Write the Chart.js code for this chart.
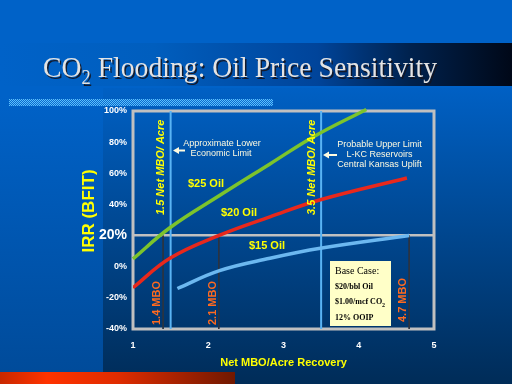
<!DOCTYPE html>
<html><head><meta charset="utf-8">
<script src="https://cdn.jsdelivr.net/npm/chart.js@4.4.0/dist/chart.umd.min.js"></script>
<style>html,body{margin:0;padding:0;background:#0060c8;overflow:hidden}#c{display:block}</style>
</head><body>
<canvas id="c" width="512" height="384"></canvas>
<script>
// ---- data ----
const oil25X = [1, 1.49, 2.16, 2.82, 3.4, 4.1];
const oil25Y = [5, 25, 46, 66, 83.5, 101];
const oil20X = [1, 1.49, 2.16, 2.82, 3.49, 4.64];
const oil20Y = [-13.5, 5.4, 20.4, 32, 43, 57];
const oil15X = [1.59, 2.15, 2.82, 3.49, 4.67];
const oil15Y = [-14, -2.5, 5.4, 11.8, 20];
const seriesNames = ['$25 Oil', '$20 Oil', '$15 Oil'];
const limitX = [1.5, 3.5];
const limitLabels = ['1.5 Net MBO/ Acre', '3.5 Net MBO/ Acre'];
const breakevenX = [1.4, 2.14, 4.67];
const breakevenLabels = ['1.4 MBO', '2.1 MBO', '4.7 MBO'];
const hurdleRate = 20;
const yTicks = [-40, -20, 0, 20, 40, 60, 80, 100];
const xTicks = [1, 2, 3, 4, 5];
const titleText = ['CO', '2', ' Flooding: Oil Price Sensitivity'];
const lowerNote = ['Approximate Lower', 'Economic Limit'];
const upperNote = ['Probable Upper Limit', 'L-KC Reservoirs', 'Central Kansas Uplift'];
const baseCase = ['Base Case:', '$20/bbl Oil', '$1.00/mcf CO', '12% OOIP'];

const pts = (xs, ys) => xs.map((x, i) => ({x, y: ys[i]}));

function arrowLeft(ctx, tipX, y, len, color) {
  ctx.fillStyle = color;
  ctx.beginPath();
  ctx.moveTo(tipX, y);
  ctx.lineTo(tipX + 6, y - 3.5);
  ctx.lineTo(tipX + 6, y + 3.5);
  ctx.closePath();
  ctx.fill();
  ctx.fillRect(tipX + 5, y - 1, len - 5, 2);
}

const decor = {
  id: 'decor',
  beforeDraw(chart) {
    const ctx = chart.ctx;
    ctx.save();
    let g = ctx.createLinearGradient(0, 0, 0, 384);
    g.addColorStop(0, '#0062c8'); g.addColorStop(0.25, '#0062c8'); g.addColorStop(1, '#004a98');
    ctx.fillStyle = g; ctx.fillRect(0, 0, 512, 384);
    g = ctx.createLinearGradient(0, 88, 0, 384);
    g.addColorStop(0, '#0060c4'); g.addColorStop(0.5, '#00468e'); g.addColorStop(1, '#002c58');
    ctx.fillStyle = g; ctx.fillRect(103, 88, 409, 296);
    // title band
    g = ctx.createLinearGradient(0, 0, 512, 0);
    g.addColorStop(0, '#0062c8'); g.addColorStop(0.3, '#005ebe'); g.addColorStop(0.62, '#00449a');
    g.addColorStop(0.8, '#00224e'); g.addColorStop(1, '#000818');
    ctx.fillStyle = g; ctx.fillRect(0, 43, 512, 43);
    // hatched bar
    const pc = document.createElement('canvas'); pc.width = 2; pc.height = 2;
    const p = pc.getContext('2d');
    p.fillStyle = '#0a6ad0'; p.fillRect(0, 0, 2, 2);
    p.fillStyle = '#5cc0fa'; p.fillRect(0, 0, 1, 1); p.fillRect(1, 1, 1, 1);
    ctx.fillStyle = ctx.createPattern(pc, 'repeat');
    ctx.fillRect(9, 99, 264, 7);
    // red bar
    g = ctx.createLinearGradient(0, 0, 235, 0);
    g.addColorStop(0, '#c82800'); g.addColorStop(0.2, '#ff3300'); g.addColorStop(0.5, '#e02c00'); g.addColorStop(1, '#701800');
    ctx.fillStyle = g; ctx.fillRect(0, 372, 235, 12);
    // title
    ctx.shadowColor = 'rgba(20,20,30,0.9)'; ctx.shadowOffsetX = 1.5; ctx.shadowOffsetY = 1.5; ctx.shadowBlur = 0;
    ctx.fillStyle = '#e4e4e4';
    ctx.textBaseline = 'alphabetic'; ctx.textAlign = 'left';
    const big = '30px "Liberation Serif"', small = '20px "Liberation Serif"';
    ctx.font = big; const w1 = ctx.measureText(titleText[0]).width, w3 = ctx.measureText(titleText[2]).width;
    ctx.font = small; const w2 = ctx.measureText(titleText[1]).width;
    const sx = 394 / (w1 + w2 + w3);
    ctx.translate(43, 77); ctx.scale(sx, 1);
    ctx.font = big; ctx.fillText(titleText[0], 0, 0);
    ctx.font = small; ctx.fillText(titleText[1], w1, 7);
    ctx.font = big; ctx.fillText(titleText[2], w1 + w2, 0);
    ctx.restore();
  },
  beforeDatasetsDraw(chart) {
    const {ctx, chartArea: a} = chart;
    ctx.save();
    ctx.strokeStyle = '#c0c0c0'; ctx.lineWidth = 3;
    ctx.strokeRect(a.left, a.top, a.right - a.left, a.bottom - a.top);
    ctx.restore();
  },
  afterDatasetsDraw(chart) {
    const ctx = chart.ctx, xs = chart.scales.x;
    ctx.save();
    // y axis title
    ctx.fillStyle = '#ffff00';
    ctx.font = 'bold 17px "Liberation Sans"';
    ctx.textAlign = 'center'; ctx.textBaseline = 'middle';
    ctx.translate(89, 211); ctx.rotate(-Math.PI / 2); ctx.fillText('IRR (BFIT)', 0, 0);
    ctx.setTransform(1, 0, 0, 1, 0, 0);
    // limit labels (rotated, italic yellow)
    ctx.font = 'italic bold 11px "Liberation Sans"';
    ctx.textAlign = 'left';
    limitX.forEach((v, i) => {
      ctx.save();
      ctx.translate(xs.getPixelForValue(v) - 9.5, 215);
      ctx.rotate(-Math.PI / 2);
      ctx.fillText(limitLabels[i], 0, 0);
      ctx.restore();
    });
    // breakeven labels (rotated, orange)
    ctx.fillStyle = '#ff6a1e';
    ctx.font = 'bold 11px "Liberation Sans"';
    breakevenX.forEach((v, i) => {
      ctx.save();
      ctx.translate(xs.getPixelForValue(v) - 6, i === 2 ? 322 : 325);
      ctx.rotate(-Math.PI / 2);
      ctx.fillText(breakevenLabels[i], 0, 0);
      ctx.restore();
    });
    // series labels
    ctx.fillStyle = '#ffff00';
    ctx.font = 'bold 11px "Liberation Sans"';
    ctx.textAlign = 'center';
    const lp = [[206, 184], [239, 213], [267, 246]];
    seriesNames.forEach((s, i) => ctx.fillText(s, lp[i][0], lp[i][1]));
    // notes
    ctx.fillStyle = '#fffbe0';
    ctx.font = '9px "Liberation Sans"';
    ctx.fillText(lowerNote[0], 222, 144);
    ctx.fillText(lowerNote[1], 221, 154);
    upperNote.forEach((s, i) => ctx.fillText(s, 379.5, 144.5 + i * 10));
    arrowLeft(ctx, 173, 150.5, 12, '#fffbe0');
    arrowLeft(ctx, 323, 155, 14, '#fffbe0');
    // base case box
    ctx.fillStyle = '#ffffc8';
    ctx.fillRect(330, 261, 61, 65);
    ctx.fillStyle = '#000';
    ctx.textAlign = 'left';
    ctx.font = '10px "Liberation Serif"';
    ctx.fillText(baseCase[0], 335, 271);
    ctx.font = 'bold 8px "Liberation Serif"';
    ctx.fillText(baseCase[1], 335, 287);
    ctx.fillText(baseCase[2], 335, 302);
    const wc = ctx.measureText(baseCase[2]).width;
    ctx.font = 'bold 6px "Liberation Serif"';
    ctx.fillText('2', 335 + wc, 305);
    ctx.font = 'bold 8px "Liberation Serif"';
    ctx.fillText(baseCase[3], 335, 317.5);
    ctx.restore();
  }
};

const datasets = [
  {label: seriesNames[0], data: pts(oil25X, oil25Y), borderColor: '#7cc42c', order: 0, clip: false},
  {label: seriesNames[1], data: pts(oil20X, oil20Y), borderColor: '#e8281c', order: 0},
  {label: seriesNames[2], data: pts(oil15X, oil15Y), borderColor: '#6cb8f0', order: 0}
].map(d => Object.assign({borderWidth: 3.5, pointRadius: 0, tension: 0.4, fill: false}, d));

limitX.forEach(v => datasets.push({
  label: 'limit ' + v, data: [{x: v, y: -40}, {x: v, y: 100}],
  borderColor: '#5ab4f4', borderWidth: 2, pointRadius: 0, order: 2, clip: false
}));
breakevenX.forEach(v => datasets.push({
  label: 'breakeven ' + v, data: [{x: v, y: hurdleRate}, {x: v, y: -40}],
  borderColor: '#2c3440', borderWidth: 1, pointRadius: 0, order: 1
}));

new Chart(document.getElementById('c'), {
  type: 'line',
  data: {datasets},
  options: {
    responsive: false, animation: false, devicePixelRatio: 1,
    layout: {padding: {top: 111, right: 78, left: 0, bottom: 0}},
    plugins: {legend: {display: false}, tooltip: {enabled: false}, title: {display: false}},
    scales: {
      x: {
        type: 'linear', min: 1, max: 5,
        afterFit: s => { s.height = 55; },
        afterBuildTicks: s => { s.ticks = xTicks.map(v => ({value: v})); },
        grid: {display: false, drawTicks: false},
        border: {display: false},
        ticks: {color: '#ffffff', padding: 11, font: {family: '"Liberation Sans"', size: 9, weight: 'bold'}},
        title: {display: true, text: 'Net MBO/Acre Recovery', color: '#ffff00',
                font: {family: '"Liberation Sans"', size: 11, weight: 'bold'}, padding: {top: 0, bottom: 14}}
      },
      y: {
        type: 'linear', min: -40, max: 100,
        afterFit: s => { s.width = 133; },
        afterBuildTicks: s => { s.ticks = yTicks.map(v => ({value: v})); },
        grid: {drawTicks: false, lineWidth: 2.5,
               color: c => (c.tick && c.tick.value === hurdleRate) ? '#c0c0c0' : 'rgba(0,0,0,0)'},
        border: {display: false},
        ticks: {color: '#ffffff', padding: 6,
                callback: v => v + '%',
                font: c => (c.tick && c.tick.value === hurdleRate)
                  ? {family: '"Liberation Sans"', size: 14, weight: 'bold'}
                  : {family: '"Liberation Sans"', size: 9, weight: 'bold'}}
      }
    }
  },
  plugins: [decor]
});
</script>
</body></html>
